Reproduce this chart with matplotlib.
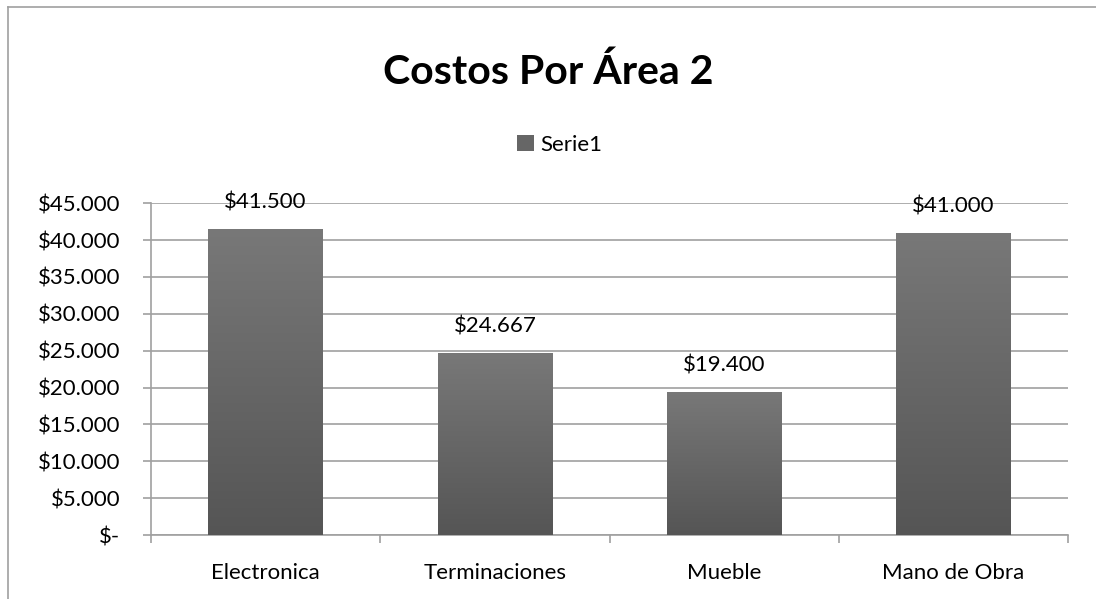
import matplotlib.pyplot as plt
import matplotlib.ticker as mticker
from matplotlib.lines import Line2D
from matplotlib.patches import Patch
import numpy as np

plt.rcParams['font.family'] = ['Lato', 'DejaVu Sans']

categories = ["Electronica", "Terminaciones", "Mueble", "Mano de Obra"]
values = [41500, 24667, 19400, 41000]
labels = ["$41.500", "$24.667", "$19.400", "$41.000"]
yticks = [0, 5000, 10000, 15000, 20000, 25000, 30000, 35000, 40000, 45000]

def money(v, pos=None):
    if v == 0:
        return "$-"
    return "$" + format(int(v), ",").replace(",", ".")

fig = plt.figure(figsize=(10.96, 5.99), dpi=100)
ax = fig.add_axes([0.1378, 0.1068, 0.8367, 0.554])

x = np.arange(len(categories))
bars = ax.bar(x, values, width=0.5, color='#666666', zorder=2)

# vertical gradient inside each bar
grad = np.linspace(0, 1, 256).reshape(-1, 1)
cmap = plt.matplotlib.colors.LinearSegmentedColormap.from_list("g", ["#555555", "#787878"])
for b in bars:
    bx, by = b.get_x(), b.get_y()
    im = ax.imshow(grad, extent=[bx, bx + b.get_width(), by, by + b.get_height()],
                   origin='lower', aspect='auto', cmap=cmap, zorder=3)
    im.set_clip_path(b)

for i, v in enumerate(values):
    ax.annotate(labels[i], (x[i], v), xytext=(0, 12), textcoords='offset points',
                ha='center', va='bottom', fontsize=16, color='black')

ax.set_xlim(-0.5, len(categories) - 0.5)
ax.set_ylim(0, 45000)
ax.set_yticks(yticks)
ax.yaxis.set_major_formatter(mticker.FuncFormatter(money))
ax.yaxis.grid(True, color='#a0a0a0', linewidth=1.2, zorder=0)
ax.set_axisbelow(True)

ax.set_xticks(x)
ax.set_xticklabels(categories, fontsize=16)
ax.set_xticks(np.arange(-0.5, len(categories)), minor=True)
ax.tick_params(axis='x', which='major', length=0, pad=20)
ax.tick_params(axis='x', which='minor', length=6, color='#a0a0a0', width=1.2, direction='out')
ax.tick_params(axis='y', length=6, color='#a0a0a0', width=1.2, labelsize=16, pad=16)

for s in ['top', 'right']:
    ax.spines[s].set_visible(False)
for s in ['left', 'bottom']:
    ax.spines[s].set_color('#a0a0a0')
    ax.spines[s].set_linewidth(1.2)

fig.text(0.5, 0.88, "Costos Por Área 2", ha='center', va='center',
         fontsize=29.5, fontweight='bold')

leg = fig.legend(handles=[Patch(facecolor='#666666', label='Serie1')],
                 loc='center', bbox_to_anchor=(0.511, 0.758), frameon=False,
                 fontsize=16, handlelength=0.75, handleheight=0.75, handletextpad=0.3)

# chart border (top and left edges visible)
fig.add_artist(Line2D([0.007, 1.0], [0.988, 0.988], color='#a0a0a0', lw=1.2, transform=fig.transFigure))
fig.add_artist(Line2D([0.007, 0.007], [0.0, 0.988], color='#a0a0a0', lw=1.2, transform=fig.transFigure))

fig.savefig("out.png", dpi=100)
